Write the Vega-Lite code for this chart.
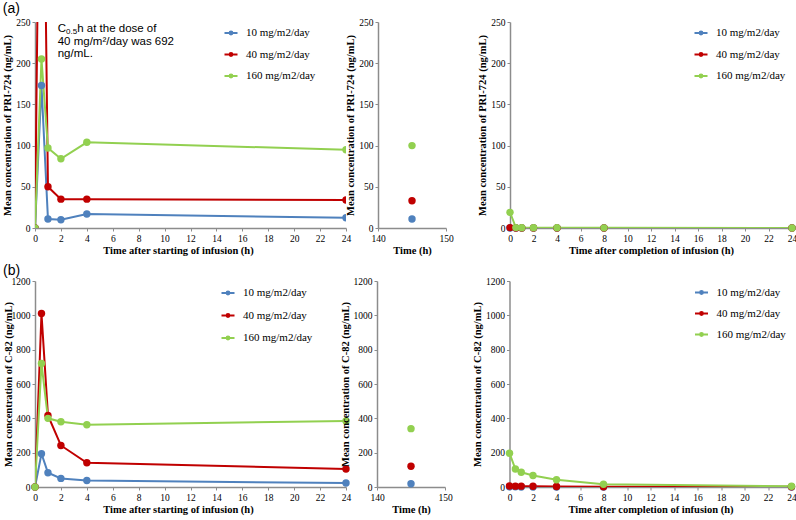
{
  "$schema": "https://vega.github.io/schema/vega-lite/v6.json",
  "padding": {"left": 2, "top": 2, "right": 0, "bottom": 2},
  "background": "white",
  "config": {
    "view": {"stroke": null},
    "axis": {
      "grid": false, "domainColor": "#8c8c8c", "domainWidth": 1.5, "tickColor": "#8c8c8c", "tickSize": 3,
      "labelFont": "Liberation Serif", "labelFontSize": 9.5, "labelColor": "#000", "labelFlush": false, "labelPadding": 2, "labelOverlap": false, "format": "d",
      "titleFont": "Liberation Serif", "titleFontSize": 10.5, "titleFontWeight": "bold", "titleColor": "#000", "titlePadding": 3
    },
    "legend": {"labelFont": "Liberation Serif", "labelFontSize": 11, "labelColor": "#000"},
    "title": {"font": "Liberation Sans", "fontSize": 14, "fontWeight": "normal", "anchor": "start", "color": "#000", "offset": 2}
  },
  "datasets": {
    "a_start": [
      {"dose": "10 mg/m2/day", "time": 0, "conc": 0},
      {"dose": "10 mg/m2/day", "time": 0.5, "conc": 173},
      {"dose": "10 mg/m2/day", "time": 1, "conc": 11},
      {"dose": "10 mg/m2/day", "time": 2, "conc": 10},
      {"dose": "10 mg/m2/day", "time": 4, "conc": 17},
      {"dose": "10 mg/m2/day", "time": 24, "conc": 12.5},
      {"dose": "40 mg/m2/day", "time": 0, "conc": 0},
      {"dose": "40 mg/m2/day", "time": 0.5, "conc": 692},
      {"dose": "40 mg/m2/day", "time": 1, "conc": 50},
      {"dose": "40 mg/m2/day", "time": 2, "conc": 35},
      {"dose": "40 mg/m2/day", "time": 4, "conc": 35},
      {"dose": "40 mg/m2/day", "time": 24, "conc": 34},
      {"dose": "160 mg/m2/day", "time": 0, "conc": 0},
      {"dose": "160 mg/m2/day", "time": 0.5, "conc": 205},
      {"dose": "160 mg/m2/day", "time": 1, "conc": 97},
      {"dose": "160 mg/m2/day", "time": 2, "conc": 84},
      {"dose": "160 mg/m2/day", "time": 4, "conc": 104},
      {"dose": "160 mg/m2/day", "time": 24, "conc": 95}
    ],
    "a_mid": [
      {"dose": "10 mg/m2/day", "time": 145, "conc": 11},
      {"dose": "40 mg/m2/day", "time": 145, "conc": 33},
      {"dose": "160 mg/m2/day", "time": 145, "conc": 100}
    ],
    "a_end": [
      {"dose": "10 mg/m2/day", "time": 0, "conc": 0},
      {"dose": "10 mg/m2/day", "time": 0.5, "conc": 0},
      {"dose": "10 mg/m2/day", "time": 1, "conc": 0},
      {"dose": "10 mg/m2/day", "time": 2, "conc": 0},
      {"dose": "10 mg/m2/day", "time": 4, "conc": 0},
      {"dose": "10 mg/m2/day", "time": 8, "conc": 0},
      {"dose": "10 mg/m2/day", "time": 24, "conc": 0},
      {"dose": "40 mg/m2/day", "time": 0, "conc": 0.5},
      {"dose": "40 mg/m2/day", "time": 0.5, "conc": 0},
      {"dose": "40 mg/m2/day", "time": 1, "conc": 0},
      {"dose": "40 mg/m2/day", "time": 2, "conc": 0},
      {"dose": "40 mg/m2/day", "time": 4, "conc": 0},
      {"dose": "40 mg/m2/day", "time": 8, "conc": 0},
      {"dose": "40 mg/m2/day", "time": 24, "conc": 0},
      {"dose": "160 mg/m2/day", "time": 0, "conc": 19},
      {"dose": "160 mg/m2/day", "time": 0.5, "conc": 0.5},
      {"dose": "160 mg/m2/day", "time": 1, "conc": 0.4},
      {"dose": "160 mg/m2/day", "time": 2, "conc": 0.3},
      {"dose": "160 mg/m2/day", "time": 4, "conc": 0.3},
      {"dose": "160 mg/m2/day", "time": 8, "conc": 0.2},
      {"dose": "160 mg/m2/day", "time": 24, "conc": 0.1}
    ],
    "b_start": [
      {"dose": "10 mg/m2/day", "time": 0, "conc": 0},
      {"dose": "10 mg/m2/day", "time": 0.5, "conc": 194},
      {"dose": "10 mg/m2/day", "time": 1, "conc": 83},
      {"dose": "10 mg/m2/day", "time": 2, "conc": 50},
      {"dose": "10 mg/m2/day", "time": 4, "conc": 38},
      {"dose": "10 mg/m2/day", "time": 24, "conc": 23},
      {"dose": "40 mg/m2/day", "time": 0, "conc": 0},
      {"dose": "40 mg/m2/day", "time": 0.5, "conc": 1011},
      {"dose": "40 mg/m2/day", "time": 1, "conc": 417},
      {"dose": "40 mg/m2/day", "time": 2, "conc": 242},
      {"dose": "40 mg/m2/day", "time": 4, "conc": 141},
      {"dose": "40 mg/m2/day", "time": 24, "conc": 105},
      {"dose": "160 mg/m2/day", "time": 0, "conc": 0},
      {"dose": "160 mg/m2/day", "time": 0.5, "conc": 720},
      {"dose": "160 mg/m2/day", "time": 1, "conc": 400},
      {"dose": "160 mg/m2/day", "time": 2, "conc": 380},
      {"dose": "160 mg/m2/day", "time": 4, "conc": 363},
      {"dose": "160 mg/m2/day", "time": 24, "conc": 384}
    ],
    "b_mid": [
      {"dose": "10 mg/m2/day", "time": 145, "conc": 19},
      {"dose": "40 mg/m2/day", "time": 145, "conc": 121},
      {"dose": "160 mg/m2/day", "time": 145, "conc": 340}
    ],
    "b_end": [
      {"dose": "10 mg/m2/day", "time": 0, "conc": 1},
      {"dose": "10 mg/m2/day", "time": 0.5, "conc": 1},
      {"dose": "10 mg/m2/day", "time": 1, "conc": 0},
      {"dose": "10 mg/m2/day", "time": 2, "conc": 0},
      {"dose": "10 mg/m2/day", "time": 4, "conc": 0},
      {"dose": "10 mg/m2/day", "time": 8, "conc": 0},
      {"dose": "10 mg/m2/day", "time": 24, "conc": 0},
      {"dose": "40 mg/m2/day", "time": 0, "conc": 6},
      {"dose": "40 mg/m2/day", "time": 0.5, "conc": 5},
      {"dose": "40 mg/m2/day", "time": 1, "conc": 5},
      {"dose": "40 mg/m2/day", "time": 2, "conc": 4},
      {"dose": "40 mg/m2/day", "time": 4, "conc": 3},
      {"dose": "40 mg/m2/day", "time": 8, "conc": 1},
      {"dose": "40 mg/m2/day", "time": 24, "conc": 1},
      {"dose": "160 mg/m2/day", "time": 0, "conc": 197},
      {"dose": "160 mg/m2/day", "time": 0.5, "conc": 105},
      {"dose": "160 mg/m2/day", "time": 1, "conc": 86},
      {"dose": "160 mg/m2/day", "time": 2, "conc": 67},
      {"dose": "160 mg/m2/day", "time": 4, "conc": 42},
      {"dose": "160 mg/m2/day", "time": 8, "conc": 16},
      {"dose": "160 mg/m2/day", "time": 24, "conc": 4}
    ],
    "note": [
      {"time": 1.75, "conc": 249, "c": "C", "sub": "0.5", "rest": "h at the dose of", "more": "40 mg/m²/day was 692\nng/mL."}
    ]
  },
  "align": "each",
  "spacing": 8,
  "vconcat": [
    {
      "align": "each",
      "spacing": 23,
      "resolve": {"scale": {"color": "independent"}, "legend": {"color": "independent"}},
      "hconcat": [
        {
          "align": "each",
          "spacing": -6,
          "resolve": {"scale": {"color": "independent"}, "legend": {"color": "independent"}},
          "hconcat": [
            {
              "width": 311, "height": 206,
              "title": {"text": "(a)", "offset": 1},
              "data": {"name": "a_start"},
              "encoding": {
                "x": {"field": "time", "type": "quantitative", "scale": {"domain": [0, 24]}, "axis": {"values": [0,2,4,6,8,10,12,14,16,18,20,22,24], "labelOverlap": false, "title": "Time after starting of infusion (h)", "titleX": 143, "titleAlign": "center"}},
                "y": {"field": "conc", "type": "quantitative", "scale": {"domain": [0, 250]}, "axis": {"values": [0,50,100,150,200,250], "labelOverlap": false, "title": "Mean concentration of PRI-724 (ng/mL)"}},
                "color": {"field": "dose", "type": "nominal", "scale": {"domain": ["10 mg/m2/day","40 mg/m2/day","160 mg/m2/day"], "range": ["#4F81BD","#C00000","#92D050"]},
                  "legend": {"title": null, "orient": "none", "legendX": 190, "legendY": 5, "symbolType": "M-1.3,0H1.3M-0.28,0A0.28,0.28 0 1,1 0.28,0A0.28,0.28 0 1,1 -0.28,0", "symbolSize": 100, "symbolStrokeWidth": 2, "labelOffset": 9, "rowPadding": 9.5,
                    "encode": {"symbols": {"update": {"fill": {"signal": "datum.value == '10 mg/m2/day' ? '#4F81BD' : datum.value == '40 mg/m2/day' ? '#C00000' : '#92D050'"}, "stroke": {"signal": "datum.value == '10 mg/m2/day' ? '#4F81BD' : datum.value == '40 mg/m2/day' ? '#C00000' : '#92D050'"}, "opacity": {"value": 1}}}}}}
              },
              "layer": [
                {"mark": {"type": "line", "strokeWidth": 2, "clip": true}},
                {"mark": {"type": "point", "filled": true, "size": 55, "opacity": 1, "clip": true}},
                {
                  "data": {"name": "note"},
                  "mark": {"type": "text", "align": "left", "baseline": "top", "font": "Liberation Sans", "fontSize": 11.5},
                  "encoding": {"text": {"field": "c"}, "color": {"value": "#000"}}
                },
                {
                  "data": {"name": "note"},
                  "mark": {"type": "text", "align": "left", "baseline": "top", "font": "Liberation Sans", "fontSize": 8, "dx": 8.3, "dy": 5},
                  "encoding": {"text": {"field": "sub"}, "color": {"value": "#000"}}
                },
                {
                  "data": {"name": "note"},
                  "mark": {"type": "text", "align": "left", "baseline": "top", "font": "Liberation Sans", "fontSize": 11.5, "dx": 19.5},
                  "encoding": {"text": {"field": "rest"}, "color": {"value": "#000"}}
                },
                {
                  "data": {"name": "note"},
                  "mark": {"type": "text", "align": "left", "baseline": "top", "font": "Liberation Sans", "fontSize": 11.5, "dy": 13, "lineHeight": 12.5, "lineBreak": "\n"},
                  "encoding": {"text": {"field": "more"}, "color": {"value": "#000"}}
                }
              ]
            },
            {
              "width": 68, "height": 206,
              "data": {"name": "a_mid"},
              "mark": {"type": "point", "filled": true, "size": 55, "opacity": 1},
              "encoding": {
                "x": {"field": "time", "type": "quantitative", "scale": {"domain": [140, 150]}, "axis": {"values": [140, 150], "labelOverlap": false, "title": "Time (h)"}},
                "y": {"field": "conc", "type": "quantitative", "scale": {"domain": [0, 250]}, "axis": {"values": [0,50,100,150,200,250], "labelOverlap": false, "title": "Mean concentration of PRI-724 (ng/mL)"}},
                "color": {"field": "dose", "type": "nominal", "scale": {"domain": ["10 mg/m2/day","40 mg/m2/day","160 mg/m2/day"], "range": ["#4F81BD","#C00000","#92D050"]}, "legend": null}
              }
            }
          ]
        },
        {
          "width": 282, "height": 206,
          "data": {"name": "a_end"},
          "encoding": {
            "x": {"field": "time", "type": "quantitative", "scale": {"domain": [0, 24]}, "axis": {"values": [0,2,4,6,8,10,12,14,16,18,20,22,24], "labelOverlap": false, "title": "Time after completion of infusion (h)"}},
            "y": {"field": "conc", "type": "quantitative", "scale": {"domain": [0, 250]}, "axis": {"values": [0,50,100,150,200,250], "labelOverlap": false, "title": "Mean concentration of PRI-724 (ng/mL)"}},
            "color": {"field": "dose", "type": "nominal", "scale": {"domain": ["10 mg/m2/day","40 mg/m2/day","160 mg/m2/day"], "range": ["#4F81BD","#C00000","#92D050"]},
              "legend": {"title": null, "orient": "none", "legendX": 185, "legendY": 5, "symbolType": "M-1.3,0H1.3M-0.28,0A0.28,0.28 0 1,1 0.28,0A0.28,0.28 0 1,1 -0.28,0", "symbolSize": 100, "symbolStrokeWidth": 2, "labelOffset": 9, "rowPadding": 9.5,
                "encode": {"symbols": {"update": {"fill": {"signal": "datum.value == '10 mg/m2/day' ? '#4F81BD' : datum.value == '40 mg/m2/day' ? '#C00000' : '#92D050'"}, "stroke": {"signal": "datum.value == '10 mg/m2/day' ? '#4F81BD' : datum.value == '40 mg/m2/day' ? '#C00000' : '#92D050'"}, "opacity": {"value": 1}}}}}}
          },
          "layer": [
            {"mark": {"type": "line", "strokeWidth": 2, "clip": true}},
            {"mark": {"type": "point", "filled": true, "size": 55, "opacity": 1}}
          ]
        }
      ]
    },
    {
      "align": "each",
      "spacing": 19.5,
      "resolve": {"scale": {"color": "independent"}, "legend": {"color": "independent"}},
      "hconcat": [
        {
          "align": "each",
          "spacing": -11,
          "resolve": {"scale": {"color": "independent"}, "legend": {"color": "independent"}},
          "hconcat": [
            {
              "width": 311, "height": 206,
              "title": {"text": "(b)", "offset": -2},
              "data": {"name": "b_start"},
              "encoding": {
                "x": {"field": "time", "type": "quantitative", "scale": {"domain": [0, 24]}, "axis": {"values": [0,2,4,6,8,10,12,14,16,18,20,22,24], "labelOverlap": false, "title": "Time after starting of infusion (h)", "titleX": 143, "titleAlign": "center"}},
                "y": {"field": "conc", "type": "quantitative", "scale": {"domain": [0, 1200]}, "axis": {"values": [0,200,400,600,800,1000,1200], "labelOverlap": false, "title": "Mean concentration of C-82 (ng/mL)", "titlePadding": -2}},
                "color": {"field": "dose", "type": "nominal", "scale": {"domain": ["10 mg/m2/day","40 mg/m2/day","160 mg/m2/day"], "range": ["#4F81BD","#C00000","#92D050"]},
                  "legend": {"title": null, "orient": "none", "legendX": 187, "legendY": 6, "symbolType": "M-1.3,0H1.3M-0.28,0A0.28,0.28 0 1,1 0.28,0A0.28,0.28 0 1,1 -0.28,0", "symbolSize": 100, "symbolStrokeWidth": 2, "labelOffset": 9, "rowPadding": 10.5,
                    "encode": {"symbols": {"update": {"fill": {"signal": "datum.value == '10 mg/m2/day' ? '#4F81BD' : datum.value == '40 mg/m2/day' ? '#C00000' : '#92D050'"}, "stroke": {"signal": "datum.value == '10 mg/m2/day' ? '#4F81BD' : datum.value == '40 mg/m2/day' ? '#C00000' : '#92D050'"}, "opacity": {"value": 1}}}}}}
              },
              "layer": [
                {"mark": {"type": "line", "strokeWidth": 2, "clip": true}},
                {"mark": {"type": "point", "filled": true, "size": 55, "opacity": 1}}
              ]
            },
            {
              "width": 68, "height": 206,
              "data": {"name": "b_mid"},
              "mark": {"type": "point", "filled": true, "size": 55, "opacity": 1},
              "encoding": {
                "x": {"field": "time", "type": "quantitative", "scale": {"domain": [140, 150]}, "axis": {"values": [140, 150], "labelOverlap": false, "title": "Time (h)"}},
                "y": {"field": "conc", "type": "quantitative", "scale": {"domain": [0, 1200]}, "axis": {"values": [0,200,400,600,800,1000,1200], "labelOverlap": false, "title": "Mean concentration of C-82 (ng/mL)"}},
                "color": {"field": "dose", "type": "nominal", "scale": {"domain": ["10 mg/m2/day","40 mg/m2/day","160 mg/m2/day"], "range": ["#4F81BD","#C00000","#92D050"]}, "legend": null}
              }
            }
          ]
        },
        {
          "width": 282, "height": 206,
          "data": {"name": "b_end"},
          "encoding": {
            "x": {"field": "time", "type": "quantitative", "scale": {"domain": [0, 24]}, "axis": {"values": [0,2,4,6,8,10,12,14,16,18,20,22,24], "labelOverlap": false, "title": "Time after completion of infusion (h)"}},
            "y": {"field": "conc", "type": "quantitative", "scale": {"domain": [0, 1200]}, "axis": {"values": [0,200,400,600,800,1000,1200], "labelOverlap": false, "title": "Mean concentration of C-82 (ng/mL)"}},
            "color": {"field": "dose", "type": "nominal", "scale": {"domain": ["10 mg/m2/day","40 mg/m2/day","160 mg/m2/day"], "range": ["#4F81BD","#C00000","#92D050"]},
              "legend": {"title": null, "orient": "none", "legendX": 186, "legendY": 5.5, "symbolType": "M-1.3,0H1.3M-0.28,0A0.28,0.28 0 1,1 0.28,0A0.28,0.28 0 1,1 -0.28,0", "symbolSize": 100, "symbolStrokeWidth": 2, "labelOffset": 9, "rowPadding": 9,
                "encode": {"symbols": {"update": {"fill": {"signal": "datum.value == '10 mg/m2/day' ? '#4F81BD' : datum.value == '40 mg/m2/day' ? '#C00000' : '#92D050'"}, "stroke": {"signal": "datum.value == '10 mg/m2/day' ? '#4F81BD' : datum.value == '40 mg/m2/day' ? '#C00000' : '#92D050'"}, "opacity": {"value": 1}}}}}}
          },
          "layer": [
            {"mark": {"type": "line", "strokeWidth": 2, "clip": true}},
            {"mark": {"type": "point", "filled": true, "size": 55, "opacity": 1}}
          ]
        }
      ]
    }
  ]
}
